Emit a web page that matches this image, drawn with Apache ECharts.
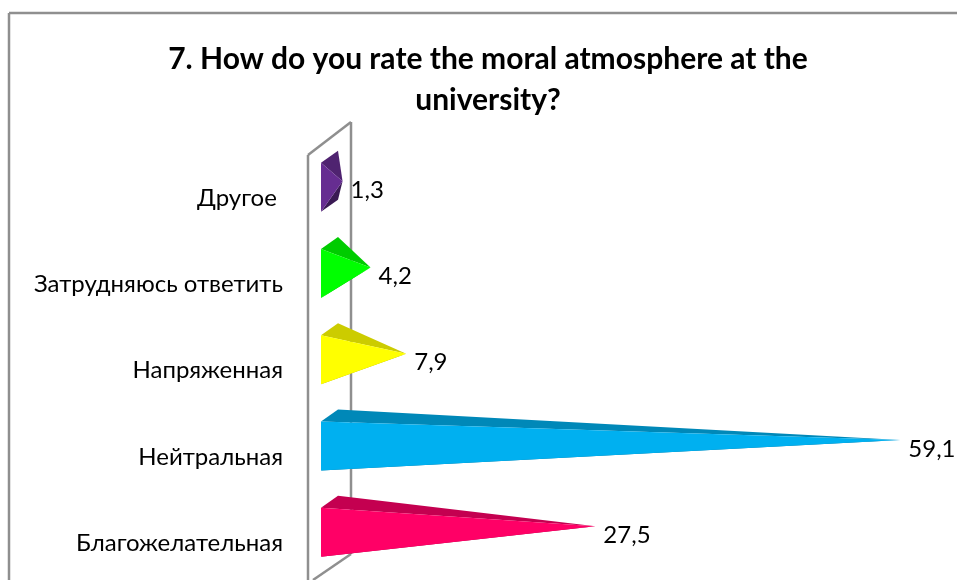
<!DOCTYPE html>
<html><head><meta charset="utf-8">
<style>html,body{margin:0;padding:0;background:#fff}#c{width:957px;height:580px}</style>
<script src="https://cdn.jsdelivr.net/npm/echarts@6/dist/echarts.min.js"></script>
</head><body><div id="c"></div>
<script>
const titleText = '7. How do you rate the moral atmosphere at the\nuniversity?';
const categories = ['Благожелательная','Нейтральная','Напряженная','Затрудняюсь ответить','Другое '];
const values = [27.5,59.1,7.9,4.2,1.3];
const valueLabels = ['27,5','59,1','7,9','4,2','1,3'];
const frontColors = ['#ff0066','#00b0f0','#ffff00','#00ff00','#662d91'];
const topColors = ['#c40050','#0088b8','#cccc00','#00cc00','#4f2370'];
const bottomColors = ['#a30042','#00709a','#aaaa00','#00aa00','#3a1a54'];

const FONT = 'Lato, "Open Sans", sans-serif';
const chart = echarts.init(document.getElementById('c'), null, {renderer:'canvas'});
const wall = '#8f8f8f';
function line(x1,y1,x2,y2){return {type:'line',silent:true,z:0,shape:{x1,y1,x2,y2},style:{stroke:wall,lineWidth:2.5}};}

function renderItem(params, api){
  const i = params.dataIndex;
  const p = api.coord([api.value(0), api.value(1)]);
  const ax = p[0], ay = p[1];                // apex
  const fx = 321, bx = 338;                  // front and back base x
  const top = ay - 18.5, bot = ay + 30.5;
  const backTop = top - 12, backBot = bot - 12;
  return {type:'group',children:[
    {type:'polygon',shape:{points:[[fx,bot],[bx,backBot],[ax,ay]]},style:{fill:bottomColors[i]}},
    {type:'polygon',shape:{points:[[fx,top],[bx,backTop],[ax,ay]]},style:{fill:topColors[i]}},
    {type:'polygon',shape:{points:[[fx,top],[fx,bot],[ax,ay]]},style:{fill:frontColors[i]}},
    {type:'text',style:{text:valueLabels[i],x:ax+8,y:ay+9,font:'24px '+FONT,fill:'#000',textAlign:'left',textVerticalAlign:'middle'}}
  ]};
}

chart.setOption({
  animation:false,
  backgroundColor:'#fff',
  title:{text:titleText,left:483,top:34,textAlign:'center',
    textStyle:{fontFamily:FONT,fontWeight:'bold',fontSize:30,lineHeight:41,color:'#000'}},
  grid:{left:330,top:138,width:620,height:431.25},
  xAxis:{type:'value',min:0,max:64.25,show:false},
  yAxis:{type:'category',data:categories,
    axisLine:{show:false},axisTick:{show:false},splitLine:{show:false},
    axisLabel:{margin:47,fontFamily:FONT,fontSize:24,color:'#000',align:'right',verticalAlign:'top',lineHeight:34}},
  graphic:[
    line(9,13,9,580),line(9,13,957,13),
    line(308,155,308,580),line(308,155,351,122),line(351,122,351,554),line(351,554,313,580)
  ],
  series:[{type:'custom',renderItem,z:5,clip:false,
    encode:{x:0,y:1},
    data:values.map((v,i)=>[v,i])}]
});
</script></body></html>
